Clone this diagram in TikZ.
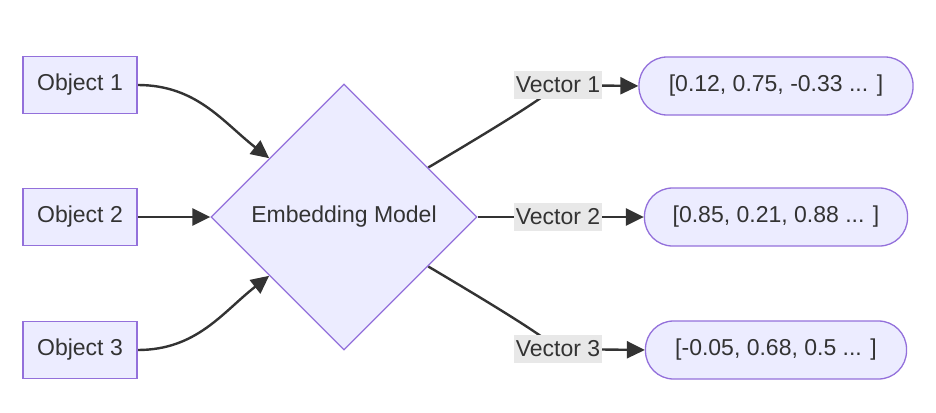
\documentclass[tikz,border=0pt]{standalone}
\usepackage{fontspec}
\setmainfont{Liberation Sans}
\usetikzlibrary{positioning, shapes.geometric, arrows.meta, calc, backgrounds}
\definecolor{boxfill}{HTML}{ECECFF}
\definecolor{boxline}{HTML}{9370DB}
\definecolor{ink}{HTML}{333333}
\definecolor{tagfill}{HTML}{E8E8E8}

\begin{document}
\begin{tikzpicture}[x=1pt, y=-1pt,
    txt/.style={font=\fontsize{23}{27}\selectfont, text=ink},
    objbox/.style={txt, rectangle, draw=boxline, fill=boxfill, line width=1.3pt, minimum width=114pt, minimum height=57pt},
    vecbox/.style={txt, rectangle, draw=boxline, fill=boxfill, line width=1.3pt, rounded corners=28pt, minimum height=58pt},
    model/.style={txt, diamond, draw=boxline, fill=boxfill, line width=1.3pt, minimum width=266pt, minimum height=266pt, inner sep=0pt},
    tag/.style={txt, rectangle, fill=tagfill, inner sep=2pt, minimum height=28pt},
    edge/.style={draw=ink, line width=2.4pt, -{Triangle[length=18pt, width=17pt]}}]
  \useasboundingbox (0,0) rectangle (936,412);

  % Inputs
  \foreach \y/\i in {85/1, 217/2, 350/3} {
    \node[objbox] (o\i) at (80,\y) {Object \i};
  }

  % Model
  \node[model] (m) at (344,217) {Embedding Model};

  % Vectors
  \node[vecbox, minimum width=274pt] (r1) at (776,86) {[0.12, 0.75, -0.33 ... ]};
  \node[vecbox, minimum width=263pt] (r2) at (776,217) {[0.85, 0.21, 0.88 ... ]};
  \node[vecbox, minimum width=261pt] (r3) at (776,350) {[-0.05, 0.68, 0.5 ... ]};

  % Edge labels
  \foreach \y/\i in {85/1, 217/2, 349/3} {
    \node[tag] (l\i) at (558,\y) {Vector \i};
  }

  % Points on the diamond
  \coordinate (p1) at ($(m.west)!0.44!(m.north)$);
  \coordinate (p3) at ($(m.west)!0.44!(m.south)$);
  \coordinate (q1) at ($(m.east)!0.37!(m.north)$);
  \coordinate (q3) at ($(m.east)!0.37!(m.south)$);

  \begin{scope}[on background layer]
    \draw[edge] (o1.east) to[out=0, in=142] (p1);
    \draw[edge] (o2.east) -- (m.west);
    \draw[edge] (o3.east) to[out=0, in=-142] (p3);
    \draw[edge] (q1) .. controls (505,122) and (540,100) .. (l1.center) -- (r1.west);
    \draw[edge] (m.east) -- (l2.center) -- (r2.west);
    \draw[edge] (q3) .. controls (505,312) and (540,334) .. (l3.center) -- (r3.west);
  \end{scope}
\end{tikzpicture}
\end{document}
